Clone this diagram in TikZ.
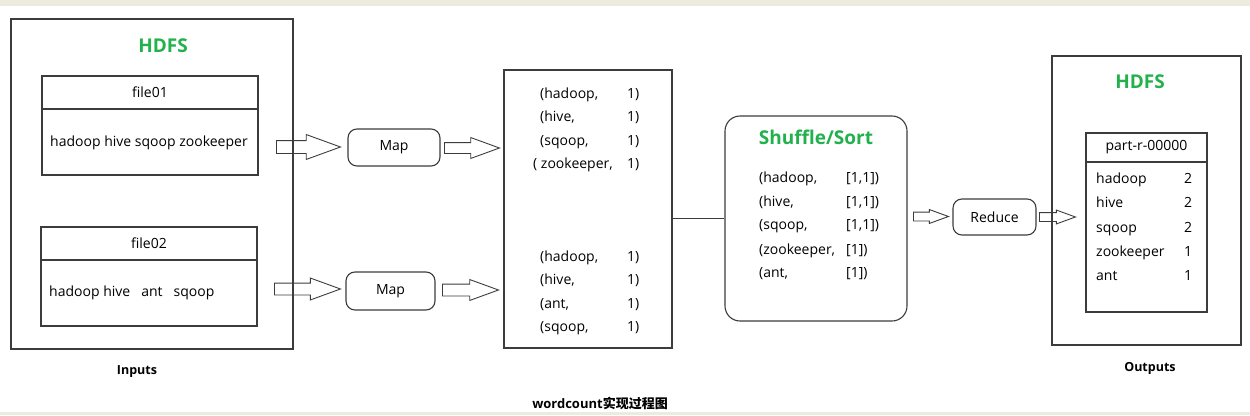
\documentclass[tikz,border=0pt]{standalone}
\usepackage{fontspec}
\setmainfont{Open Sans}
\newfontfamily\cjkfont{Noto Sans CJK SC}
\usetikzlibrary{positioning,shapes.arrows}
\definecolor{hdfsgreen}{RGB}{34,177,76}
\definecolor{edgestrip}{RGB}{236,236,222}
\definecolor{linegray}{RGB}{60,60,60}

\begin{document}
\begin{tikzpicture}[x=1pt,y=-1pt,
    every node/.style={font=\fontsize{14}{16}\selectfont},
    frame/.style={draw=linegray, line width=1.1pt, inner sep=0pt},
    title/.style={font=\fontsize{19}{22}\selectfont\bfseries, text=hdfsgreen},
    caption/.style={font=\fontsize{12.5}{15}\selectfont\bfseries},
    task/.style={frame, rounded corners=9pt},
    row/.style={anchor=west, inner sep=0pt, text height=11pt, text depth=2pt},
    fatarrow/.style n args={3}{single arrow, draw=linegray, line width=0.9pt,
        single arrow tip angle=40, anchor=west, inner xsep=0pt, inner ysep=#2,
        text height=0pt, text depth=0pt, minimum height=#1,
        single arrow head extend=#3}]

    \fill[white] (0,0) rectangle (1250,415);
    \fill[edgestrip] (0,0) rectangle (1250,6);
    \fill[edgestrip] (0,412) rectangle (1250,415);
    \useasboundingbox (0,0) rectangle (1250,415);

    \node[frame, minimum width=282pt, minimum height=330pt] (inhdfs) at (152,184) {};
    \node[title] (inhdfstitle) at (163,46) {HDFS};
    \node[frame, minimum width=216pt, minimum height=33pt] (file1) at (150,92.5) {file01};
    \node[frame, minimum width=216pt, minimum height=66pt] (file1body) at (150,142) {};
    \node[row] (file1text) at (50,142) {hadoop hive sqoop zookeeper};
    \node[frame, minimum width=216pt, minimum height=33pt] (file2) at (149,243.5) {file02};
    \node[frame, minimum width=216pt, minimum height=66pt] (file2body) at (149,293) {};
    \node[row] (file2text) at (49,292) {hadoop hive\hspace{11pt}ant\hspace{11pt}sqoop};
    \node[caption] (inputs) at (137,372) {Inputs};

    \node[task, minimum width=92pt, minimum height=37pt] (map1) at (394,147.5) {Map};
    \node[task, minimum width=89pt, minimum height=38pt] (map2) at (390.5,291) {Map};

    \node[fatarrow={64pt}{6pt}{6pt}] (in1) at (276,147) {};
    \node[fatarrow={66pt}{5.5pt}{5pt}] (in2) at (274,289) {};
    \node[fatarrow={55pt}{5pt}{5pt}] (out1) at (444,148) {};
    \node[fatarrow={56pt}{5.5pt}{4.5pt}] (out2) at (442,290) {};

    \node[frame, minimum width=168pt, minimum height=278pt] (pairs) at (588,209) {};
    \foreach \x/\y/\k [count=\i] in {540/94/{(hadoop,}, 540/117/{(hive,},
        540/141/{(sqoop,}, 533/164/{( zookeeper,}} {
        \node[row] (kv1-\i) at (\x,\y) {\k};
        \node[row] at (627,\y) {1)};
    }
    \foreach \y/\k [count=\i] in {257/{(hadoop,}, 280/{(hive,}, 304/{(ant,}, 327/{(sqoop,}} {
        \node[row] (kv2-\i) at (540,\y) {\k};
        \node[row] at (627,\y) {1)};
    }

    \node[frame, rounded corners=15pt, minimum width=182pt, minimum height=205pt] (shuffle) at (816,218.5) {};
    \node[title] (shuffletitle) at (816,137) {Shuffle/Sort};
    \foreach \y/\k/\v [count=\i] in {178/{(hadoop,}/{[1,1])}, 202/{(hive,}/{[1,1])},
        225/{(sqoop,}/{[1,1])}, 250/{(zookeeper,}/{[1])}, 273/{(ant,}/{[1])}} {
        \node[row] (grp-\i) at (759,\y) {\k};
        \node[row] at (846,\y) {\v};
    }
    \draw[linegray, line width=1.1pt] (shuffle.west) -- (shuffle.west -| pairs.east);

    \node[fatarrow={35pt}{4pt}{2.5pt}] (toreduce) at (913,216.5) {};
    \node[task, minimum width=83pt, minimum height=36pt] (reduce) at (994.5,217) {Reduce};
    \node[fatarrow={36pt}{4pt}{2.5pt}] (fromreduce) at (1039,217) {};

    \node[frame, minimum width=189pt, minimum height=289pt] (outhdfs) at (1146.5,200.5) {};
    \node[title] (outhdfstitle) at (1140,82) {HDFS};
    \node[frame, minimum width=121pt, minimum height=29pt] (part) at (1146.5,147.5) {part-r-00000};
    \node[frame, minimum width=121pt, minimum height=150pt] (partbody) at (1146.5,237) {};
    \foreach \y/\k/\v [count=\i] in {179/hadoop/2, 203/hive/2, 228/sqoop/2, 252/zookeeper/1, 276/ant/1} {
        \node[row] (cnt-\i) at (1096,\y) {\k};
        \node[row] at (1184,\y) {\v};
    }
    \node[caption] (outputs) at (1150,368) {Outputs};

    \node[caption, font=\fontsize{13}{15}\selectfont\bfseries] (figcaption) at (600,403)
        {wordcount{\cjkfont\bfseries 实现过程图}};
\end{tikzpicture}
\end{document}
